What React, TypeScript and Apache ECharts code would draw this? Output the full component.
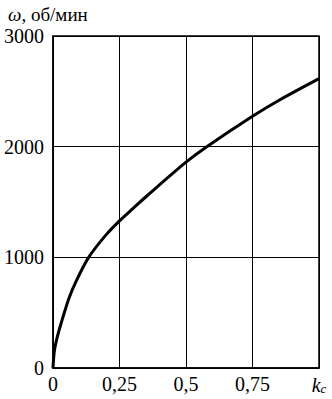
import React, { useEffect, useRef } from "react";
import * as echarts from "echarts";

const kValues = [0, 0.005, 0.015, 0.03, 0.06, 0.088, 0.134, 0.2, 0.25, 0.3, 0.36, 0.5, 0.578, 0.75, 0.85, 1.0];
const omegaValues = [0, 150, 270, 400, 630, 790, 1000, 1205, 1330, 1440, 1570, 1860, 2000, 2275, 2420, 2615];
const xTicks = [0, 0.25, 0.5, 0.75, 1];
const yTicks = [0, 1000, 2000, 3000];
const yTitle = "об/мин";
const xTitle = ["k", "c"];

export default function App() {
  const ref = useRef<HTMLDivElement>(null);
  useEffect(() => {
    const chart = echarts.init(ref.current!, null, { renderer: "svg" });
    const font = "'Liberation Serif', 'DejaVu Serif', serif";
    chart.setOption({
      animation: false,
      backgroundColor: "#fff",
      textStyle: { fontFamily: font },
      grid: {
        left: 53, right: 13, top: 36, bottom: 31,
        outerBoundsMode: "none",
        show: true, borderColor: "#000", borderWidth: 1.5, backgroundColor: "transparent",
      },
      title: {
        text: "{w|ω}, " + yTitle,
        left: 3,
        top: 0,
        textStyle: {
          fontFamily: font,
          fontSize: 19,
          fontWeight: "normal",
          color: "#000",
          rich: { w: { fontFamily: font, fontSize: 19, fontStyle: "italic", color: "#000" } },
        },
      },
      xAxis: {
        type: "value",
        min: 0,
        max: 1,
        interval: 0.25,
        axisLine: { show: true, lineStyle: { color: "#000", width: 1.5 } },
        axisTick: { show: false },
        splitLine: { show: true, lineStyle: { color: "#000", width: 1 } },
        axisLabel: {
          color: "#000",
          fontFamily: font,
          fontSize: 20,
          margin: 6,
          formatter: (v: number) => {
            if (v === xTicks[xTicks.length - 1]) return "{k|" + xTitle[0] + "}{s|" + xTitle[1] + "}";
            return String(v).replace(".", ",");
          },
          rich: {
            k: { fontFamily: font, fontSize: 20, fontStyle: "italic", color: "#000" },
            s: { fontFamily: font, fontSize: 13, fontStyle: "italic", color: "#000", verticalAlign: "bottom", padding: [8, 0, 0, 0] },
          },
        },
      },
      yAxis: {
        type: "value",
        min: yTicks[0],
        max: yTicks[yTicks.length - 1],
        interval: 1000,
        axisLine: { show: true, lineStyle: { color: "#000", width: 1.5 } },
        axisTick: { show: false },
        splitLine: { show: true, lineStyle: { color: "#000", width: 1 } },
        axisLabel: { color: "#000", fontFamily: font, fontSize: 20, margin: 9, formatter: (v: number) => String(v) },
      },
      series: [
        {
          type: "line",
          data: kValues.map((k, i) => [k, omegaValues[i]]),
          smooth: 0.3,
          showSymbol: false,
          lineStyle: { color: "#000", width: 3 },
        },
      ],
    });
    return () => chart.dispose();
  }, []);
  return <div ref={ref} style={{ width: 332, height: 399, position: "absolute", left: 0, top: 0 }} />;
}
